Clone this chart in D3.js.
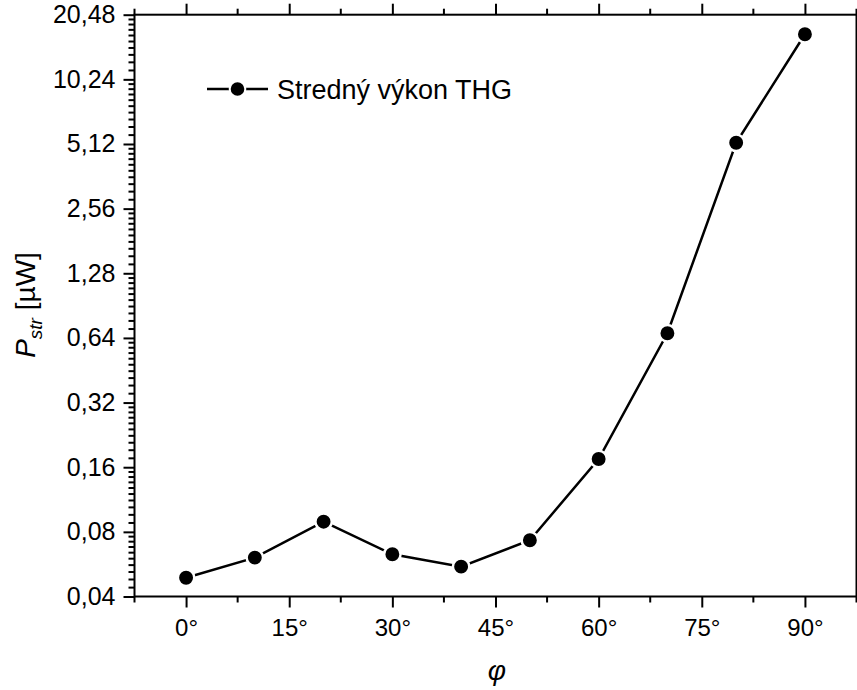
<!DOCTYPE html>
<html>
<head>
<meta charset="utf-8">
<script src="https://cdn.jsdelivr.net/npm/d3@7/dist/d3.min.js"></script>
<style>
  html, body { margin: 0; padding: 0; background: #fff; }
  svg { display: block; }
  text { font-family: "Liberation Sans", Arial, sans-serif; fill: #000; }
</style>
</head>
<body>
<svg id="chart" width="857" height="690"></svg>
<script>
// Angle of polarisation (degrees) and mean THG power (µW)
const angles = [0, 10, 20, 30, 40, 50, 60, 70, 80, 90];
const power = [0.0489, 0.0607, 0.0892, 0.0629, 0.0551, 0.0731, 0.1747, 0.673, 5.19, 16.6];

// Axis ticks
const yTickValues = [0.04, 0.08, 0.16, 0.32, 0.64, 1.28, 2.56, 5.12, 10.24, 20.48];
const yTickLabels = ["0,04", "0,08", "0,16", "0,32", "0,64", "1,28", "2,56", "5,12", "10,24", "20,48"];
const xTickValues = [0, 15, 30, 45, 60, 75, 90];
const xTickLabels = ["0°", "15°", "30°", "45°", "60°", "75°", "90°"];
const legendLabel = "Stredný výkon THG";

const svg = d3.select("#chart");
const plotL = 134.5, plotR = 856.5, plotT = 14.7, plotB = 596.5;

const x = d3.scaleLinear().domain([-7.5, 97.5]).range([plotL, plotR]);
const y = d3.scaleLog().base(2).domain([0.04, 20.48]).range([plotB, plotT]);

// Minor ticks: linear steps inside each octave
const yMinor = [];
yTickValues.slice(0, -1).forEach(b => {
  for (let k = 1; k <= 9; k++) yMinor.push(b * (1 + k / 10));
});
const xMinor = d3.range(-7.5, 98, 15);

const majorLen = 11, minorLen = 6, axisW = 2;
const fontFam = "Liberation Sans, Arial, sans-serif";

// Bottom axis
const gB = svg.append("g").attr("transform", `translate(0,${plotB})`);
gB.call(d3.axisBottom(x).tickValues(xTickValues).tickFormat((d, i) => xTickLabels[i])
  .tickSizeInner(majorLen).tickSizeOuter(0).tickPadding(11));
gB.selectAll(".tick text").style("font-size", "24px").style("font-family", fontFam);
gB.append("g").selectAll("line").data(xMinor).join("line")
  .attr("x1", d => x(d)).attr("x2", d => x(d)).attr("y1", 0).attr("y2", minorLen);

// Top axis
const gT = svg.append("g").attr("transform", `translate(0,${plotT})`);
gT.call(d3.axisTop(x).tickValues(xTickValues).tickFormat("").tickSizeInner(majorLen).tickSizeOuter(0));
gT.append("g").selectAll("line").data(xMinor).join("line")
  .attr("x1", d => x(d)).attr("x2", d => x(d)).attr("y1", 0).attr("y2", -minorLen);

// Left axis
const gL = svg.append("g").attr("transform", `translate(${plotL},0)`);
gL.call(d3.axisLeft(y).tickValues(yTickValues).tickFormat((d, i) => yTickLabels[i])
  .tickSizeInner(majorLen).tickSizeOuter(0).tickPadding(8));
gL.selectAll(".tick text").style("font-size", "25px").style("font-family", fontFam);
gL.append("g").selectAll("line").data(yMinor).join("line")
  .attr("y1", d => y(d)).attr("y2", d => y(d)).attr("x1", 0).attr("x2", -minorLen);

svg.selectAll(".domain").remove();
svg.selectAll("line").attr("stroke", "#000").attr("stroke-width", axisW);

// Frame
svg.append("rect")
  .attr("x", plotL).attr("y", plotT)
  .attr("width", plotR - plotL).attr("height", plotB - plotT)
  .attr("fill", "none").attr("stroke", "#000").attr("stroke-width", axisW);

// Data line and markers
const line = d3.line().x((d, i) => x(angles[i])).y(d => y(d));
svg.append("path").datum(power).attr("d", line)
  .attr("fill", "none").attr("stroke", "#000").attr("stroke-width", 2.5);
svg.append("g").selectAll("circle").data(power).join("circle")
  .attr("cx", (d, i) => x(angles[i])).attr("cy", d => y(d)).attr("r", 8.2)
  .attr("fill", "#000").attr("stroke", "#fff").attr("stroke-width", 2.5);

// Legend
const lg = svg.append("g").attr("transform", "translate(207,89)");
lg.append("line").attr("x1", 0).attr("x2", 61).attr("y1", 0).attr("y2", 0)
  .attr("stroke", "#000").attr("stroke-width", 2.5);
lg.append("circle").attr("cx", 30.5).attr("cy", 0).attr("r", 7.8)
  .attr("fill", "#000").attr("stroke", "#fff").attr("stroke-width", 2);
lg.append("text").attr("x", 70).attr("y", 9.5).style("font-size", "27px").text(legendLabel);

// Axis titles
const yl = svg.append("text")
  .attr("transform", "translate(35,305) rotate(-90)")
  .attr("text-anchor", "middle").style("font-size", "28px");
yl.append("tspan").style("font-style", "italic").text("P");
yl.append("tspan").style("font-style", "italic").style("font-size", "19px").attr("dy", 7).text("str");
yl.append("tspan").attr("dy", -7).text(" [µW]");

svg.append("text").attr("x", 497).attr("y", 680).attr("text-anchor", "middle")
  .style("font-size", "28px").style("font-style", "italic").text("φ");
</script>
</body>
</html>
